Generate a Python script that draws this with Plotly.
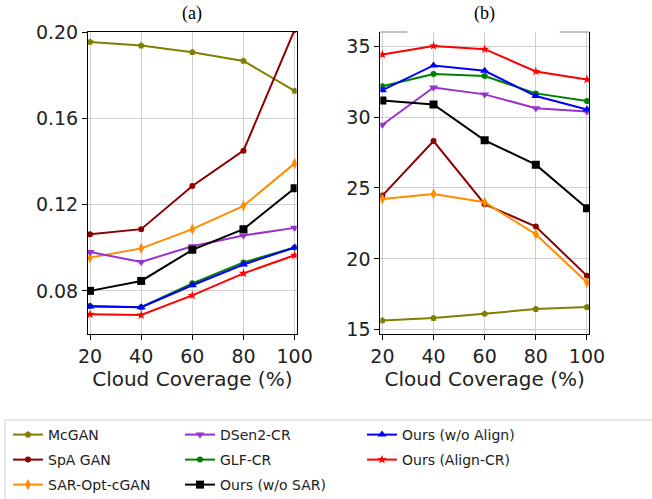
import plotly.graph_objects as go
from plotly.subplots import make_subplots

coverage = [20, 40, 60, 80, 100]

methods = ["McGAN", "SpA GAN", "SAR-Opt-cGAN", "DSen2-CR", "GLF-CR",
           "Ours (w/o SAR)", "Ours (w/o Align)", "Ours (Align-CR)"]

# panel (a)
a_mcgan = [0.1954, 0.1937, 0.1906, 0.1866, 0.1727]
a_spagan = [0.1062, 0.1086, 0.1286, 0.1450, 0.2010]
a_saropt = [0.0954, 0.0997, 0.1086, 0.1194, 0.1391]
a_dsen2 = [0.0980, 0.0934, 0.1007, 0.1057, 0.1092]
a_glfcr = [0.0730, 0.0724, 0.0835, 0.0932, 0.1001]
a_wosar = [0.0800, 0.0846, 0.0990, 0.1086, 0.1276]
a_woalign = [0.0728, 0.0724, 0.0826, 0.0922, 0.1001]
a_aligncr = [0.0691, 0.0688, 0.0779, 0.0881, 0.0965]

# panel (b)
b_mcgan = [15.65, 15.82, 16.13, 16.46, 16.60]
b_spagan = [24.46, 28.31, 23.86, 22.28, 18.80]
b_saropt = [24.22, 24.58, 23.99, 21.74, 18.33]
b_dsen2 = [29.46, 32.09, 31.60, 30.63, 30.40]
b_glfcr = [32.18, 33.03, 32.89, 31.67, 31.13]
b_wosar = [31.17, 30.89, 28.36, 26.64, 23.57]
b_woalign = [31.90, 33.64, 33.26, 31.48, 30.54]
b_aligncr = [34.41, 35.02, 34.79, 33.22, 32.65]

a_ticks = [0.08, 0.12, 0.16, 0.20]
b_ticks = [15, 20, 25, 30, 35]
x_ticks = [20, 40, 60, 80, 100]

series_a = [a_mcgan, a_spagan, a_saropt, a_dsen2, a_glfcr, a_wosar, a_woalign, a_aligncr]
series_b = [b_mcgan, b_spagan, b_saropt, b_dsen2, b_glfcr, b_wosar, b_woalign, b_aligncr]

colors = ["#808000", "#8b0000", "#ff8c00", "#9932cc", "#008000", "#000000", "#0000ff", "#ff0000"]
symbols = ["pentagon", "circle", "diamond-tall", "triangle-down", "circle", "square", "triangle-up", "star"]
msizes = [7, 6, 8, 8, 6, 8, 8, 7]

W, H = 652, 499
ml, mr, mt, mb = 88, 63, 32, 165

# legend slots (column-major, as in the reference)
leg_cols = [8, 180, 362]
leg_rows = [419, 444, 469]

fig = make_subplots(rows=1, cols=2, horizontal_spacing=0.167)

for col, series in ((1, series_a), (2, series_b)):
    for i, name in enumerate(methods):
        lname = "legend" if i == 0 else f"legend{i + 1}"
        fig.add_trace(go.Scatter(
            x=coverage, y=series[i], name=name, mode="lines+markers",
            line=dict(color=colors[i], width=2),
            marker=dict(color=colors[i], symbol=symbols[i], size=msizes[i], line=dict(width=0)),
            showlegend=(col == 1), legend=lname,
        ), row=1, col=col)

axis_common = dict(showline=True, linecolor="black", linewidth=1,
                   ticks="outside", ticklen=5, tickcolor="black", showgrid=True,
                   gridcolor="#cfcfcf", gridwidth=1, zeroline=False, automargin=False,
                   tickfont=dict(family="DejaVu Sans", size=19, color="#222"))

fig.update_xaxes(range=[19.2, 100.8], tickvals=x_ticks, mirror=True,
                 title=dict(text="Cloud Coverage (%)", standoff=6,
                            font=dict(family="DejaVu Sans", size=20, color="#222")),
                 row=1, col=1, **axis_common)
fig.update_xaxes(range=[19.2, 100.8], tickvals=x_ticks, mirror=False,
                 title=dict(text="Cloud Coverage (%)", standoff=6,
                            font=dict(family="DejaVu Sans", size=20, color="#222")),
                 row=1, col=2, **axis_common)

fig.update_yaxes(range=[0.06, 0.20], tickvals=a_ticks, tickformat=".2f", mirror=True,
                 row=1, col=1, **axis_common)
fig.update_yaxes(range=[14.7, 36.0], tickvals=b_ticks, mirror=True, row=1, col=2, **axis_common)

fig.add_annotation(text="(a)", x=0.5, y=1.0, xref="x domain", yref="paper", yanchor="bottom",
                   yshift=6, showarrow=False, font=dict(family="Liberation Serif", size=18, color="black"))
fig.add_annotation(text="(b)", x=0.5, y=1.0, xref="x2 domain", yref="paper", yanchor="bottom",
                   yshift=6, showarrow=False, font=dict(family="Liberation Serif", size=18, color="black"))

# top frame of panel (b): grey, interrupted under the title
for x0, x1 in ((0.0, 0.13), (0.86, 1.0)):
    fig.add_shape(type="line", xref="x2 domain", yref="y2 domain", x0=x0, x1=x1, y0=1, y1=1,
                  line=dict(color="#9a9a9a", width=1.2), layer="above")

# legend frame
pw, ph = W - ml - mr, H - mt - mb
fig.add_shape(type="rect", xref="paper", yref="paper",
              x0=(5 - ml) / pw, x1=(660 - ml) / pw,
              y0=(H - mb - 420) / ph, y1=(H - mb - 510) / ph,
              line=dict(color="#d0d0d0", width=1), fillcolor="rgba(0,0,0,0)", layer="above")

layout_legends = {}
for i in range(len(methods)):
    lname = "legend" if i == 0 else f"legend{i + 1}"
    c, r = divmod(i, 3)
    layout_legends[lname] = dict(
        xref="container", yref="container",
        x=leg_cols[c] / W, y=1 - leg_rows[r] / H, xanchor="left", yanchor="top",
        font=dict(family="DejaVu Sans", size=14, color="#222"),
        bgcolor="rgba(0,0,0,0)", borderwidth=0, itemwidth=30)

fig.update_layout(
    width=W, height=H, margin=dict(l=ml, r=mr, t=mt, b=mb, autoexpand=False),
    paper_bgcolor="white", plot_bgcolor="white",
    font=dict(family="DejaVu Sans"),
    **layout_legends,
)

fig.write_html("out.html")
